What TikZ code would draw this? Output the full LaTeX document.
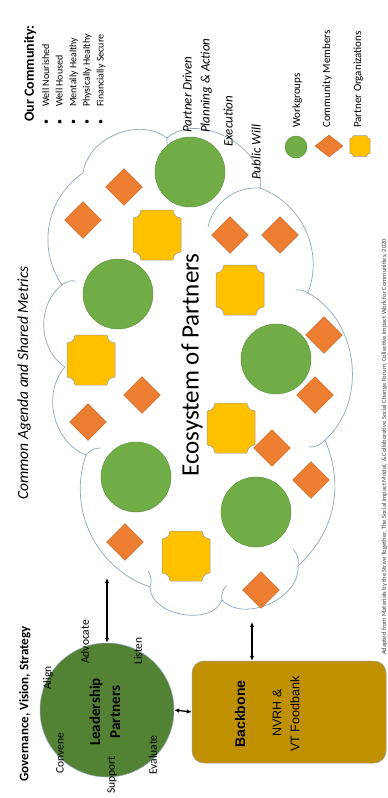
\documentclass[tikz,border=0pt]{standalone}
\usepackage{fontspec}
\setmainfont{Carlito}
\newfontfamily\arialf{Liberation Sans}
\usetikzlibrary{shapes.geometric,arrows.meta}
\definecolor{wgreen}{HTML}{70AD47}
\definecolor{lgreen}{HTML}{548235}
\definecolor{cmorange}{HTML}{ED7D31}
\definecolor{poyellow}{HTML}{FFC000}
\definecolor{bbgold}{HTML}{BF9000}
\definecolor{cloudc}{HTML}{8FA7BF}
\definecolor{edgec}{HTML}{9A9A9A}
\tikzset{
  wgcirc/.style={circle, fill=wgreen, draw=wgreen!80!black, line width=0.4pt, minimum size=70pt, inner sep=0pt},
  cmdia/.style={diamond, fill=cmorange, draw=cmorange!80!black, line width=0.4pt, minimum width=37pt, minimum height=37pt, inner sep=0pt},
  rtext/.style={rotate=90, inner sep=0pt},
  dblarrow/.style={{Latex[length=5pt,width=4.5pt]}-{Latex[length=5pt,width=4.5pt]}, line width=1.3pt},
  cloudline/.style={draw=cloudc, line width=0.7pt},
  plaque/.pic={\filldraw[fill=poyellow, draw=edgec, line width=0.5pt]
    (-16,-25) -- (16,-25) .. controls (16,-20.6) and (19.6,-17) .. (24,-17)
    -- (24,17) .. controls (19.6,17) and (16,20.6) .. (16,25)
    -- (-16,25) .. controls (-16,20.6) and (-19.6,17) .. (-24,17)
    -- (-24,-17) .. controls (-19.6,-17) and (-16,-20.6) .. (-16,-25) -- cycle;},
  lbltxt/.style={rtext, font=\fontsize{11.5}{13}\selectfont},
  itltxt/.style={rtext, font=\fontsize{13}{15}\selectfont\itshape},
  legtxt/.style={rtext, font=\fontsize{11}{13}\selectfont},
}
\begin{document}
\begin{tikzpicture}[x=1pt,y=-1pt]
\useasboundingbox (0,0) rectangle (388,798);
\fill[white] (0,0) rectangle (388,798);

% cloud
\draw[cloudline, fill=white] (83,173) to[bend left=60] (167,138) to[bend left=70] (260,188)
  to[bend left=45] (308,293) to[bend left=55] (325,440)
  to[bend left=35] (298,566) to[bend left=70] (222,600) to[bend left=80] (150,587)
  to[bend left=45] (86,455) to[bend left=55] (65,367) to[bend left=55] (62,285)
  to[bend left=45] (83,173) -- cycle;
\draw[cloudline] (260,188) to[bend right=40] (208,227);
\draw[cloudline] (308,293) to[bend right=20] (296,290);
\draw[cloudline] (325,440) to[bend left=25] (309,447);
\draw[cloudline] (298,566) to[bend right=25] (293,549);
\draw[cloudline] (86,455) to[bend left=25] (100,448);
\draw[cloudline] (150,587) to[bend right=25] (148,571);
\draw[cloudline] (62,285) to[bend left=25] (76,281);
\draw[cloudline] (167,138) to[bend right=25] (172,153);
\draw[cloudline] (222,600) to[bend left=25] (226,586);

\coordinate (cl1) at (107,578);
\coordinate (cl2) at (252,622);

% workgroups
\node[wgcirc] (w1) at (190,172) {};
\node[wgcirc] (w2) at (118,294) {};
\node[wgcirc] (w3) at (136,477) {};
\node[wgcirc] (w4) at (276,359) {};
\node[wgcirc] (w5) at (256,512) {};

% community members
\node[cmdia] (d1) at (124,187) {};
\node[cmdia] (d2) at (83,220) {};
\node[cmdia] (d3) at (230,235) {};
\node[cmdia] (d4) at (280,235) {};
\node[cmdia] (d5) at (142,395) {};
\node[cmdia] (d6) at (88,422) {};
\node[cmdia] (d7) at (324,335) {};
\node[cmdia] (d8) at (315,395) {};
\node[cmdia] (d9) at (272,448) {};
\node[cmdia] (d10) at (311,480) {};
\node[cmdia] (d11) at (125,542) {};
\node[cmdia] (d12) at (261,590) {};

% partner organizations
\pic (p1) at (157,235) {plaque};
\pic (p2) at (91,360) {plaque};
\pic (p3) at (231,428) {plaque};
\pic (p4) at (186,556) {plaque};
\pic (p5) at (240,290) {plaque};

\node[rtext, font=\fontsize{25}{28}\selectfont] (eco) at (192,365) {Ecosystem of Partners};

% titles
\node[rtext, font=\fontsize{13}{15}\selectfont\bfseries] (gov) at (25,704) {Governance, Vision, Strategy};
\node[rtext, font=\fontsize{15.5}{18}\selectfont\itshape] (agenda) at (24,383) {Common Agenda and Shared Metrics};
\node[rtext, anchor=base west, font=\fontsize{14}{16}\selectfont\bfseries] (ourc) at (34,122) {Our Community:};
\foreach \t [count=\i] in {Well Nourished, Well Housed, Mentally Healthy, Physically Healthy, Financially Secure} {
  \node[rtext, anchor=base, font=\fontsize{10}{12}\selectfont] (bu\i) at ({35.5+13.6*\i},122) {•};
  \node[rtext, anchor=base west, font=\fontsize{10}{12}\selectfont] (it\i) at ({35.5+13.6*\i},107) {\t};
}

\node[itltxt, anchor=base west] (pd) at (191.5,133) {Partner Driven};
\node[itltxt, anchor=base west] (pa) at (209.5,133) {Planning \& Action};
\node[itltxt, anchor=base west] (ex) at (232.5,147) {Execution};
\node[itltxt, anchor=base west] (pw) at (260.5,180) {Public Will};

% legend
\node[circle, fill=wgreen, draw=wgreen!80!black, line width=0.4pt, minimum size=22pt, inner sep=0pt] (lw) at (296,147) {};
\node[diamond, fill=cmorange, draw=cmorange!80!black, line width=0.4pt, minimum width=28pt, minimum height=22pt, inner sep=0pt] (lc) at (329,146) {};
\pic[scale=0.42] (lp) at (360,146) {plaque};
\node[legtxt, anchor=base west] (lwt) at (300,128) {Workgroups};
\node[legtxt, anchor=base west] (lct) at (330,128) {Community Members};
\node[legtxt, anchor=base west] (lpt) at (361,128) {Partner Organizations};

% footnote
\node[rtext, anchor=base west, font=\fontsize{6.5}{8}\selectfont, text=black!75] (fn) at (386,655) {Adapted from Materials by the Strive Together, The Social Impact Model, \& Collaborative Social Change Forum, Collective Impact Work for Communities, 2020};

% leadership
\node[circle, fill=lgreen, draw=cloudc, line width=0.5pt, minimum size=134pt, inner sep=0pt] (lead) at (107,710) {};
\node[rtext, align=center, font=\fontsize{15}{20}\selectfont\bfseries] (leadt) at (105,712) {Leadership\\Partners};
\node[lbltxt] (w-align) at (48,678) {Align};
\node[lbltxt] (w-adv) at (85,642) {Advocate};
\node[lbltxt] (w-lis) at (138,651) {Listen};
\node[lbltxt] (w-conv) at (60,753) {Convene};
\node[lbltxt] (w-sup) at (112,775) {Support};
\node[lbltxt] (w-eval) at (153,755) {Evaluate};

% backbone
\node[rectangle, rounded corners=12pt, fill=bbgold, draw=edgec, line width=0.5pt, minimum width=194pt, minimum height=102pt, inner sep=0pt] (bb) at (289,712) {};
\node[rtext, font=\arialf\fontsize{14}{16}\selectfont\bfseries] (bbt) at (240,714) {Backbone};
\node[rtext, font=\arialf\fontsize{12.5}{15}\selectfont] (bbn) at (277,713) {NVRH \&};
\node[rtext, font=\arialf\fontsize{12.5}{15}\selectfont] (bbv) at (295,714) {VT Foodbank};

% connectors
\draw[dblarrow] (cl1) -- (lead.north);
\draw[dblarrow] (lead.east) -- (bb.west);
\draw[dblarrow] (cl2) -- (cl2 |- bb.north);
\end{tikzpicture}
\end{document}
